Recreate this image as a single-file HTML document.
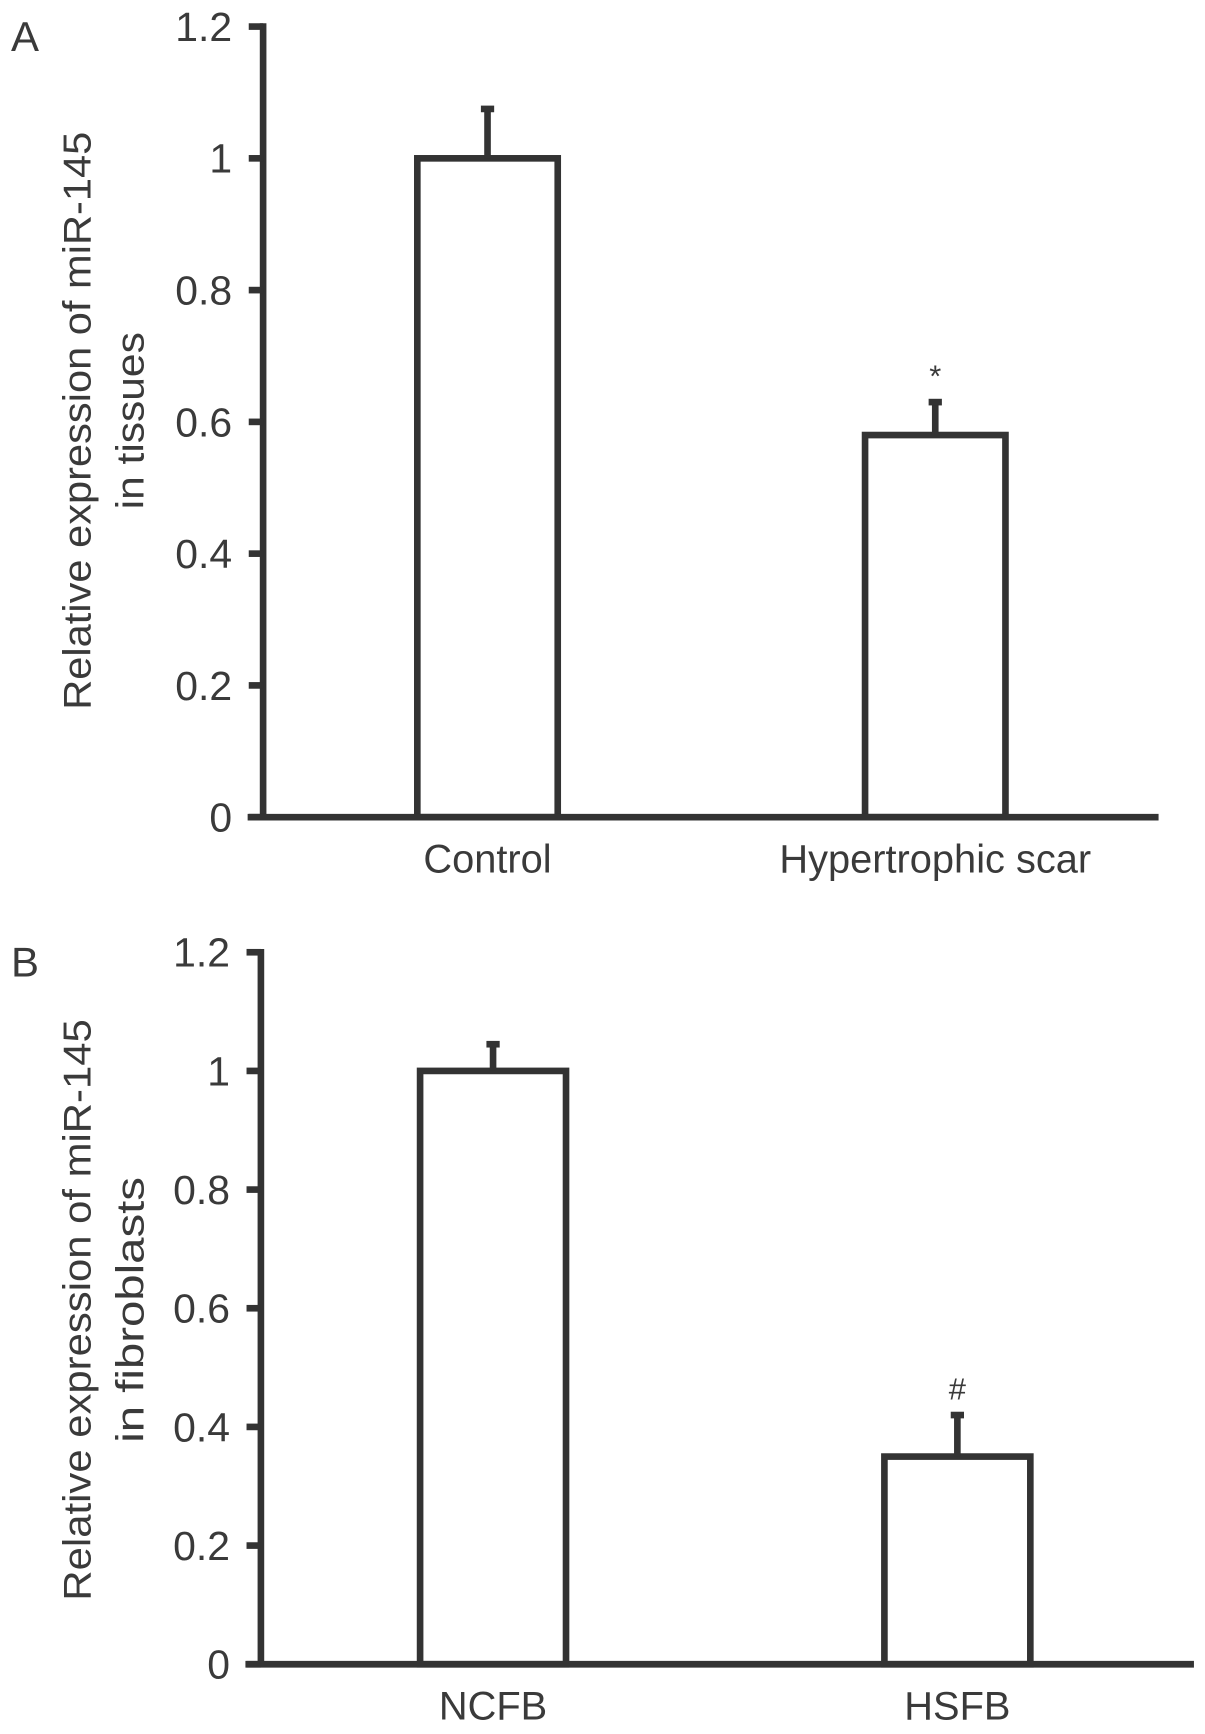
<!DOCTYPE html>
<html><head><meta charset="utf-8"><style>
html,body{margin:0;padding:0;background:#fff}
svg{display:block}
text{font-family:"Liberation Sans",sans-serif;fill:#3a3a3a}
</style></head><body>
<svg id="fig" width="1205" height="1734" viewBox="0 0 1090 1566" preserveAspectRatio="none" xmlns="http://www.w3.org/2000/svg"></svg>
<script>
const catsA = ["Control", "Hypertrophic scar"];
const valsA = [1.0, 0.58];
const errA = [0.075, 0.05];
const marksA = ["", "*"];
const catsB = ["NCFB", "HSFB"];
const valsB = [1.0, 0.35];
const errB = [0.045, 0.07];
const marksB = ["", "#"];
const ticks = [0, 0.2, 0.4, 0.6, 0.8, 1.0, 1.2];
const tickLabels = ["0", "0.2", "0.4", "0.6", "0.8", "1", "1.2"];

const NS = "http://www.w3.org/2000/svg";
const svg = document.getElementById("fig");
const C = "#333";
function el(tag, attrs, parent) {
  const e = document.createElementNS(NS, tag);
  for (const k in attrs) e.setAttribute(k, attrs[k]);
  (parent || svg).appendChild(e);
  return e;
}
function panel(p) {
  const g = el("g", {});
  
  
  const y = v => p.y0 - (v / 1.2) * (p.y0 - p.ytop);
  const xc = i => p.centers[i];
  const L = el("text", {x: 10, y: p.ytop + 22, "font-size": 38}, g);
  L.textContent = p.letter;
  
  
  const ax = el("line", {x1: p.ax, y1: p.ytop - 3, x2: p.ax, y2: p.y0, stroke: C, "stroke-width": 6}, g);
  
  
  ticks.forEach((t, i) => {
    el("line", {x1: p.ax - 13, y1: y(t), x2: p.ax, y2: y(t), stroke: C, "stroke-width": 6}, g);
    const tl = el("text", {x: p.ax - 28, y: y(t) + 13, "font-size": 37, "text-anchor": "end"}, g);
    tl.textContent = tickLabels[i];
    
    
  });
  p.vals.forEach((v, i) => {
    const w = p.bw;
    const r = el("rect", {x: xc(i) - w / 2, y: y(v), width: w, height: p.y0 - y(v), fill: "#fff", stroke: C, "stroke-width": 6}, g);
    
    
    const eb = el("line", {x1: xc(i), y1: y(v), x2: xc(i), y2: y(v + p.err[i]), stroke: C, "stroke-width": 6}, g);
    
    
    el("line", {x1: xc(i) - 6, y1: y(v + p.err[i]), x2: xc(i) + 6, y2: y(v + p.err[i]), stroke: C, "stroke-width": 6}, g);
    if (p.marks[i]) {
      const m = el("text", {x: xc(i), y: y(v + p.err[i]) - 14, "font-size": 28, "text-anchor": "middle"}, g);
      m.textContent = p.marks[i];
      
      
    }
    const cl = el("text", {x: xc(i), y: p.y0 + 50, "font-size": 36, "text-anchor": "middle"}, g);
    cl.textContent = p.cats[i];
    
    
  });
  const xa = el("line", {x1: p.ax - 14, y1: p.y0, x2: p.xend, y2: p.y0, stroke: C, "stroke-width": 6}, g);
  
  
  const tt = el("text", {transform: `translate(82 ${p.tcy}) rotate(-90)`, "font-size": 35, "text-anchor": "middle", textLength: p.l1, lengthAdjust: "spacingAndGlyphs"}, g);
  tt.textContent = p.t1;
  
  
  const tt2 = el("text", {transform: `translate(130 ${p.tcy}) rotate(-90)`, "font-size": 35, "text-anchor": "middle", textLength: p.l2, lengthAdjust: "spacingAndGlyphs"}, g);
  tt2.textContent = p.t2;
  
  
}
panel({name: "panel-a", letter: "A", ax: 238, ytop: 24, y0: 738, xend: 1048, centers: [441, 846], bw: 127,
  cats: catsA, vals: valsA, err: errA, marks: marksA, tcy: 380, l1: 522, l2: 160,
  t1: "Relative expression of miR-145", t2: "in tissues"});
panel({name: "panel-b", letter: "B", ax: 236, ytop: 860, y0: 1503, xend: 1080, centers: [446, 866], bw: 132,
  cats: catsB, vals: valsB, err: errB, marks: marksB, tcy: 1183, l1: 525, l2: 240,
  t1: "Relative expression of miR-145", t2: "in fibroblasts"});
</script>
</body></html>
